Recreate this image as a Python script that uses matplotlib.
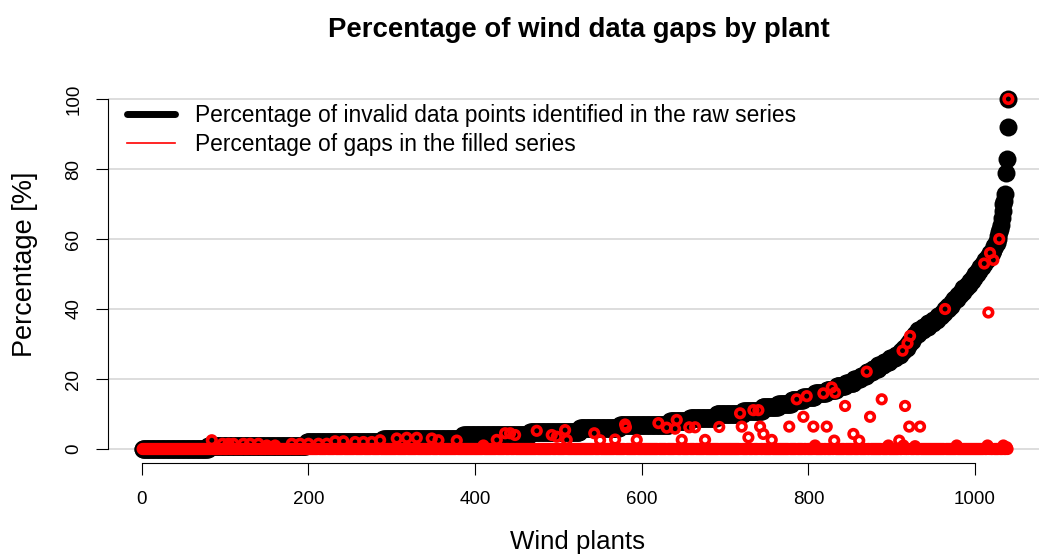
import numpy as np
import matplotlib
matplotlib.use("Agg")
import matplotlib.pyplot as plt
from matplotlib.lines import Line2D

plt.rcParams['font.family'] = ['Liberation Sans', 'DejaVu Sans']

# raw series: percentage of invalid points, sorted (level -> number of plants)
invalid_levels = list(range(0, 60))
invalid_counts = [79, 118, 92, 96, 80, 60, 48, 60, 24, 32,
                  32, 23, 19, 16, 14, 14, 14, 12, 11, 10,
                  8, 7, 7, 7, 7, 7, 7, 6, 4, 4,
                  3, 3, 3, 4, 6, 6, 6, 5, 5, 4,
                  4, 4, 3, 4, 4, 3, 4, 4, 3, 3,
                  3, 3, 3, 3, 3, 3, 3, 2, 2, 2]
invalid_tail = [60, 61, 62, 63, 64, 66, 68, 70, 71, 73, 79, 83, 92, 100]

# filled series: gaps left after filling (all other plants are 0)
gap_plants = [84, 97, 104, 110, 122, 130, 140, 150, 160, 180, 190, 200, 212, 222,
              232, 242, 256, 266, 276, 286, 306, 318, 330, 348, 356, 378, 410, 426,
              436, 442, 448, 474, 492, 498, 508, 510, 543, 550, 568, 580, 581, 594,
              620, 630, 640, 642, 648, 657, 664, 676, 693, 718, 720, 728, 734, 740,
              742, 746, 756, 777, 786, 794, 798, 806, 808, 818, 822, 828, 831, 832,
              844, 854, 861, 870, 874, 888, 896, 909, 913, 914, 916, 919, 921, 922,
              928, 934, 964, 978, 1011, 1015, 1016, 1018, 1022, 1029, 1034, 1038, 1040]
gap_values = [2.5, 1.5, 1.5, 1.5, 1.5, 1.5, 1.5, 1, 1, 1.5, 1.5, 1.5, 1.5, 1.5,
              2.2, 2.2, 2, 2, 2, 2.5, 3, 3.2, 3.2, 3, 2.5, 2.4, 1, 2.6,
              4.5, 4.5, 4, 5.2, 4, 3.5, 5.4, 2.6, 4.5, 2.5, 2.7, 7, 6.2, 2.6,
              7.4, 6.1, 5.8, 8.3, 2.6, 6.2, 6.2, 2.6, 6.3, 10.2, 6.4, 3.3, 11.1, 11.1,
              6.4, 4.3, 2.6, 6.4, 14.2, 9.2, 15.1, 6.4, 1, 15.9, 6.4, 17.6, 2.4, 16.1,
              12.3, 4.3, 2.4, 22.1, 9.2, 14.2, 1, 2.4, 28.1, 1, 12.3, 30.2, 6.4, 32.3,
              0.8, 6.4, 40, 1, 53, 1, 39, 56, 54, 60, 1, 0.5, 100]

invalid = np.concatenate([np.repeat(invalid_levels, invalid_counts), invalid_tail]).astype(float)
n = len(invalid)
plants = np.arange(1, n + 1)
gaps = np.zeros(n)
gaps[np.array(gap_plants) - 1] = gap_values

fig = plt.figure(figsize=(10.39, 5.54), dpi=100)
ax = fig.add_axes([108 / 1039, 1 - 463 / 554, 935 / 1039, 378 / 554])

for yv in range(0, 101, 20):
    ax.axhline(yv, color='#d3d3d3', lw=1.1, zorder=0)

ax.scatter(plants, invalid, s=168, c='black', linewidths=0, zorder=2)
ax.scatter(plants, gaps, s=38, facecolors='none', edgecolors='red', linewidths=2.6, zorder=3)

pad = 0.04 * (n - 1)
ax.set_xlim(1 - pad, n + pad)
ax.set_ylim(-4, 104)

for side in ['top', 'right']:
    ax.spines[side].set_visible(False)
ax.spines['left'].set_bounds(0, 100)
ax.spines['bottom'].set_bounds(0, 1000)
ax.set_xticks([0, 200, 400, 600, 800, 1000])
ax.set_yticks([0, 20, 40, 60, 80, 100])
ax.tick_params(axis='x', length=8.5, labelsize=13.5, pad=12)
ax.tick_params(axis='y', length=8.5, labelsize=13.5, pad=10)
for lbl in ax.get_yticklabels():
    lbl.set_rotation(90)
    lbl.set_va('center')

handles = [Line2D([], [], color='black', lw=5, solid_capstyle='round'),
           Line2D([], [], color='red', lw=1.2)]
labels = ['Percentage of invalid data points identified in the raw series',
          'Percentage of gaps in the filled series']
fig.legend(handles, labels, loc='upper left', bbox_to_anchor=(127 / 1039, 1 - 104 / 554),
           frameon=False, fontsize=16.4, handlelength=2.1, handletextpad=0.9,
           labelspacing=0.25, borderpad=0, borderaxespad=0)

fig.text(579 / 1039, 1 - 30 / 554, 'Percentage of wind data gaps by plant',
         ha='center', va='center', fontsize=19.8, fontweight='bold')
fig.text(578 / 1039, 1 - 542 / 554, 'Wind plants', ha='center', va='center', fontsize=18.6)
fig.text(25 / 1039, 1 - 264 / 554, 'Percentage [%]', ha='center', va='center',
         fontsize=19.5, rotation=90)

fig.savefig('out.png', dpi=100)
